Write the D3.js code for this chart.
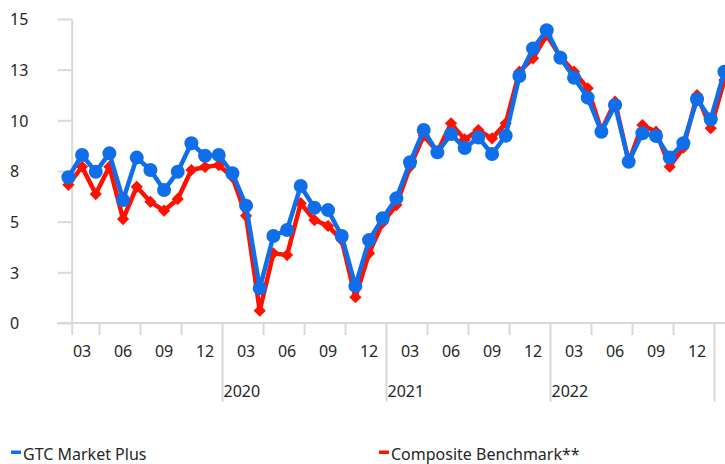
<!DOCTYPE html>
<html>
<head>
<meta charset="utf-8">
<script src="https://cdn.jsdelivr.net/npm/d3@7"></script>
<style>
  body { margin: 0; background: #fff; }
  svg { display: block; }
  text { font-family: "Noto Sans", sans-serif; font-size: 16px; fill: #262626; }
</style>
</head>
<body>
<div id="chart"></div>
<script>
const width = 725;
const height = 464;

// monthly categories: Feb 2019 .. Feb 2023
const months = d3.timeMonth.range(new Date(2019, 1, 1), new Date(2023, 2, 1));

const gtcMarketPlus = [
  7.19, 8.29, 7.46, 8.37, 6.07, 8.16, 7.55, 6.56, 7.46, 8.87,
  8.25, 8.29, 7.39, 5.79, 1.71, 4.29, 4.59, 6.76, 5.69, 5.57,
  4.29, 1.83, 4.09, 5.17, 6.15, 7.93, 9.52, 8.42, 9.32, 8.63,
  9.15, 8.34, 9.24, 12.19, 13.55, 14.45, 13.09, 12.1, 11.12, 9.44,
  10.75, 7.96, 9.36, 9.23, 8.16, 8.87, 11.04, 10.05, 12.4,
];

const compositeBenchmark = [
  6.82, 7.71, 6.36, 7.71, 5.13, 6.72, 5.98, 5.54, 6.12, 7.55,
  7.7, 7.79, 7.2, 5.29, 0.61, 3.44, 3.35, 5.91, 5.08, 4.79,
  4.09, 1.27, 3.44, 4.95, 5.82, 7.71, 9.25, 8.45, 9.85, 9.06,
  9.52, 9.11, 9.85, 12.4, 13.06, 14.21, 13.14, 12.4, 11.58, 9.5,
  10.92, 7.96, 9.77, 9.44, 7.71, 8.65, 11.25, 9.61, 11.99,
];

const yTicks = [0, 2.5, 5, 7.5, 10, 12.5, 15];
const legendItems = [
  { name: "GTC Market Plus", color: "#0f6fea", x: 11 },
  { name: "Composite Benchmark**", color: "#ff1100", x: 379 },
];

const axisColor = "#d9d9d9";

const svg = d3
  .select("#chart")
  .append("svg")
  .attr("width", width)
  .attr("height", height);

const yScale = d3.scaleLinear().domain([0, 15]).range([323, 19]);

// month boundaries (start of each month) and point positions
const xBound = d3.scaleLinear().domain([0, 47]).range([71.7, 714]);
const xPoint = (i) => xBound(i) - 3.3;

// y axis
const yAxis = d3
  .axisLeft(yScale)
  .tickValues(yTicks)
  .tickSize(14)
  .tickSizeOuter(0)
  .tickFormat((d) => Math.round(d));

const yG = svg
  .append("g")
  .attr("transform", `translate(${xBound(0)}, 0)`)
  .call(yAxis);
yG.select(".domain").attr("stroke", axisColor).attr("stroke-width", 2);
yG.selectAll(".tick line").attr("stroke", axisColor).attr("stroke-width", 2);
yG.selectAll(".tick text")
  .attr("x", 10 - xBound(0))
  .attr("dy", "0.36em")
  .attr("text-anchor", "start")
  .style("font-size", "16px")
  .style("font-family", '"Noto Sans", sans-serif')
  .attr("fill", "#262626");

// x axis: quarter boundaries, long ticks at year starts
const quarterStarts = d3.range(months.length).filter((i) => {
  const m = months[i].getMonth();
  return i === 0 || m % 3 === 0;
});

const xAxis = d3
  .axisBottom(xBound)
  .tickValues(quarterStarts)
  .tickSize(12)
  .tickSizeOuter(0)
  .tickFormat("");

const xG = svg
  .append("g")
  .attr("transform", `translate(0, ${yScale(0)})`)
  .call(xAxis);
xG.select(".domain").remove();
xG.selectAll(".tick line")
  .attr("stroke", axisColor)
  .attr("stroke-width", 2)
  .attr("y2", (d) => (d > 0 && months[d].getMonth() === 0 ? 79 : 12));

svg
  .append("line")
  .attr("x1", 57)
  .attr("x2", width)
  .attr("y1", yScale(0))
  .attr("y2", yScale(0))
  .attr("stroke", axisColor)
  .attr("stroke-width", 2);

// month labels at quarter-end months
svg
  .selectAll("text.month")
  .data(d3.range(months.length).filter((i) => (months[i].getMonth() + 1) % 3 === 0))
  .enter()
  .append("text")
  .attr("class", "month")
  .attr("x", (i) => xPoint(i))
  .attr("y", 357)
  .attr("text-anchor", "middle")
  .text((i) => d3.timeFormat("%m")(months[i]));

// year labels (only years whose label fits)
svg
  .selectAll("text.year")
  .data(
    d3.range(months.length).filter(
      (i) => months[i].getMonth() === 0 && xBound(i) + 40 < width
    )
  )
  .enter()
  .append("text")
  .attr("class", "year")
  .attr("x", (i) => xBound(i) + 1.5)
  .attr("y", 396.5)
  .text((i) => months[i].getFullYear());

// series
const line = d3
  .line()
  .x((d, i) => xPoint(i))
  .y((d) => yScale(d));

svg
  .append("path")
  .datum(compositeBenchmark)
  .attr("fill", "none")
  .attr("stroke", legendItems[1].color)
  .attr("stroke-width", 4.5)
  .attr("stroke-linejoin", "round")
  .attr("d", line);

svg
  .selectAll("path.diamond")
  .data(compositeBenchmark)
  .enter()
  .append("path")
  .attr("class", "diamond")
  .attr("d", d3.symbol(d3.symbolDiamond2, 95))
  .attr("transform", (d, i) => `translate(${xPoint(i)}, ${yScale(d)})`)
  .attr("fill", legendItems[1].color);

svg
  .append("path")
  .datum(gtcMarketPlus)
  .attr("fill", "none")
  .attr("stroke", legendItems[0].color)
  .attr("stroke-width", 4.5)
  .attr("stroke-linejoin", "round")
  .attr("d", line);

svg
  .selectAll("circle.dot")
  .data(gtcMarketPlus)
  .enter()
  .append("circle")
  .attr("class", "dot")
  .attr("cx", (d, i) => xPoint(i))
  .attr("cy", (d) => yScale(d))
  .attr("r", 7)
  .attr("fill", legendItems[0].color);

// legend
const legend = svg
  .selectAll("g.legend")
  .data(legendItems)
  .enter()
  .append("g")
  .attr("class", "legend")
  .attr("transform", (d) => `translate(${d.x}, 0)`);

legend
  .append("rect")
  .attr("x", 0)
  .attr("y", 450.5)
  .attr("width", 10)
  .attr("height", 3.5)
  .attr("fill", (d) => d.color);

legend
  .append("text")
  .attr("x", 12)
  .attr("y", 459.5)
  .text((d) => d.name);
</script>
</body>
</html>
